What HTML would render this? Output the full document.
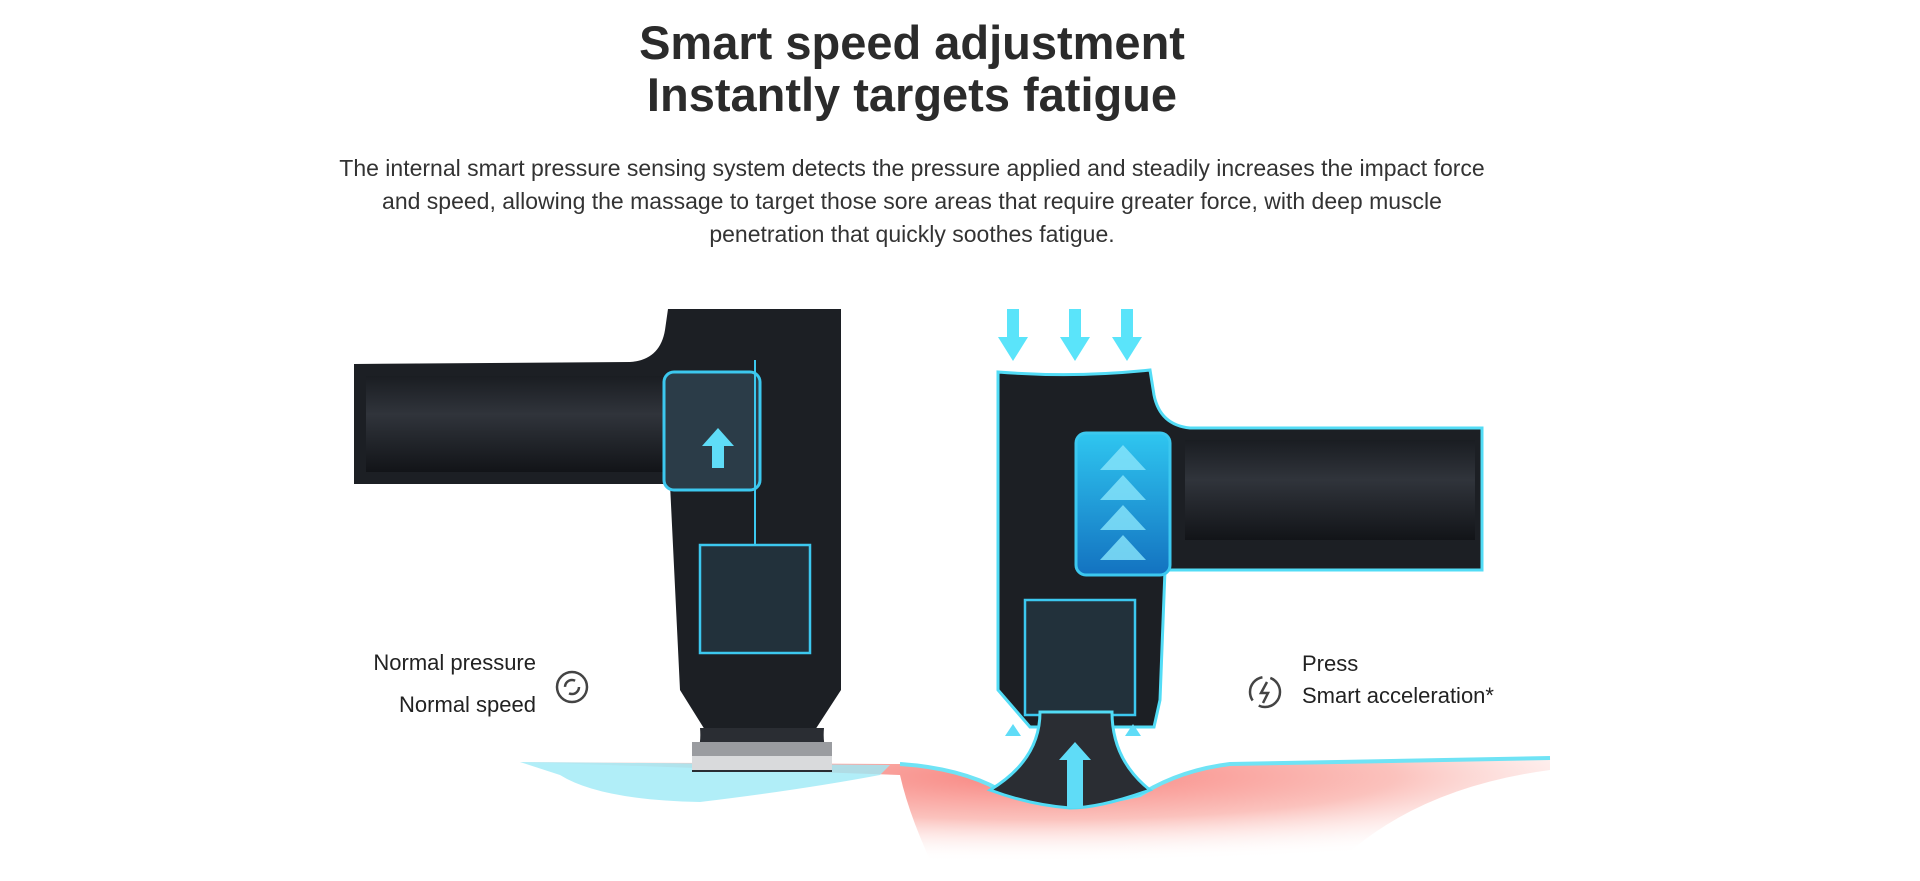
<!DOCTYPE html>
<html><head><meta charset="utf-8"><style>
html,body{margin:0;padding:0;background:#fff;}
body{width:1920px;height:881px;position:relative;overflow:hidden;font-family:"Liberation Sans",sans-serif;color:#333;}
.t{position:absolute;left:0;width:1824px;text-align:center;font-weight:bold;font-size:47px;line-height:52px;color:#2b2b2b;}
.p{position:absolute;left:262px;width:1300px;text-align:center;font-size:23px;line-height:33px;top:152px;color:#333;}
.l{position:absolute;font-size:22px;line-height:26px;color:#222;}
</style></head><body>
<div class="t" style="top:17px">Smart speed adjustment<br>Instantly targets fatigue</div>
<div class="p">The internal smart pressure sensing system detects the pressure applied and steadily increases the impact force<br>and speed, allowing the massage to target those sore areas that require greater force, with deep muscle<br>penetration that quickly soothes fatigue.</div>
<svg width="1920" height="881" style="position:absolute;left:0;top:0">
<defs>
<linearGradient id="hd" x1="0" y1="0" x2="0" y2="1"><stop offset="0" stop-color="#1a1d22"/><stop offset=".4" stop-color="#30343b"/><stop offset="1" stop-color="#121418"/></linearGradient>
<radialGradient id="red" cx=".5" cy=".15" r=".7"><stop offset="0" stop-color="#f88580"/><stop offset=".5" stop-color="#fbc2bd"/><stop offset="1" stop-color="#fff" stop-opacity="0"/></radialGradient>
<linearGradient id="bl" x1="0" y1="0" x2="0" y2="1"><stop offset="0" stop-color="#2fc6f0"/><stop offset="1" stop-color="#1372c0"/></linearGradient>
</defs>
<path d="M520 762 L900 764 Q960 768 1000 790 Q1070 815 1140 795 Q1180 770 1230 764 L1550 758 L1550 770 Q1400 790 1320 881 L940 881 Q910 820 900 775 Z" fill="url(#red)"/>
<path d="M520 762 L890 765 L880 775 Q800 790 700 802 Q600 800 560 775 Z" fill="#9eeaf6" opacity=".8"/>
<path d="M900 764 Q960 768 1000 790 Q1070 812 1140 795 Q1180 770 1230 764 L1550 758" fill="none" stroke="#6fe3f5" stroke-width="4"/>
<path d="M354 364 L630 362 Q660 360 665 330 L668 309 L841 309 L841 690 L815 730 L705 730 L680 690 L670 484 L354 484 Z" fill="#1c1f24"/>
<rect x="366" y="376" width="300" height="96" fill="url(#hd)"/>
<path d="M700 728 L824 728 Q822 750 832 760 L832 772 L692 772 L692 760 Q702 750 700 728 Z" fill="#2a2d33"/>
<rect x="692" y="742" width="140" height="14" fill="#9a9ca0"/>
<rect x="692" y="756" width="140" height="14" fill="#d9dadc"/>
<rect x="664" y="372" width="96" height="118" rx="10" fill="#2b3c48" stroke="#3cc8ef" stroke-width="3"/>
<rect x="700" y="545" width="110" height="108" fill="#22313b" stroke="#3cc8ef" stroke-width="2.5"/>
<line x1="755" y1="360" x2="755" y2="545" stroke="#3cc8ef" stroke-width="2"/>
<path d="M702 446 h10 v22 h12 v-22 h10 l-16 -18 Z" fill="#5fdcf7"/>
<path d="M998 372 Q1075 378 1150 370 L1154 395 Q1160 425 1190 428 L1482 428 L1482 570 L1165 570 L1160 700 L1154 727 L1030 727 L998 690 Z" fill="#1c1f24" stroke="#52dcf6" stroke-width="3"/>
<rect x="1185" y="440" width="290" height="100" fill="url(#hd)"/>
<rect x="1076" y="433" width="94" height="142" rx="10" fill="url(#bl)" stroke="#3cc8ef" stroke-width="3"/>
<path d="M1100 470 l23 -25 l23 25 Z M1100 500 l23 -25 l23 25 Z M1100 530 l23 -25 l23 25 Z M1100 560 l23 -25 l23 25 Z" fill="#8ae6fb" opacity=".8"/>
<rect x="1025" y="600" width="110" height="115" fill="#22313b" stroke="#3cc8ef" stroke-width="2.5"/>
<path d="M1040 712 L1112 712 Q1112 760 1150 790 Q1100 808 1070 808 Q1030 805 990 790 Q1040 760 1040 712 Z" fill="#2a2d33" stroke="#52dcf6" stroke-width="3"/>
<path d="M1067 808 L1067 760 h-8 l16 -18 l16 18 h-8 v48 Z" fill="#5fdcf7"/>
<path d="M1013 736 l-8 0 l8 -12 l8 12 z M1133 736 l-8 0 l8 -12 l8 12 z" fill="#5fdcf7"/>
<g fill="#5ae4fa">
<path d="M1007 309 h12 v28 h9 l-15 24 l-15 -24 h9 Z"/>
<path d="M1069 309 h12 v28 h9 l-15 24 l-15 -24 h9 Z"/>
<path d="M1121 309 h12 v28 h9 l-15 24 l-15 -24 h9 Z"/>
</g>
<circle cx="572" cy="687" r="15" fill="none" stroke="#444" stroke-width="2.5"/>
<circle cx="572" cy="687" r="7" fill="none" stroke="#444" stroke-width="2.5" stroke-dasharray="14 8"/>
<circle cx="1265" cy="692" r="15" fill="none" stroke="#444" stroke-width="2.5" stroke-dasharray="30 8"/>
<path d="M1267 682 l-6 11 h7 l-5 10" fill="none" stroke="#444" stroke-width="2.5"/>
</svg>
<div class="l" style="right:1384px;top:650px">Normal pressure</div>
<div class="l" style="right:1384px;top:692px">Normal speed</div>
<div class="l" style="left:1302px;top:651px">Press</div>
<div class="l" style="left:1302px;top:683px">Smart acceleration*</div>
</body></html>
